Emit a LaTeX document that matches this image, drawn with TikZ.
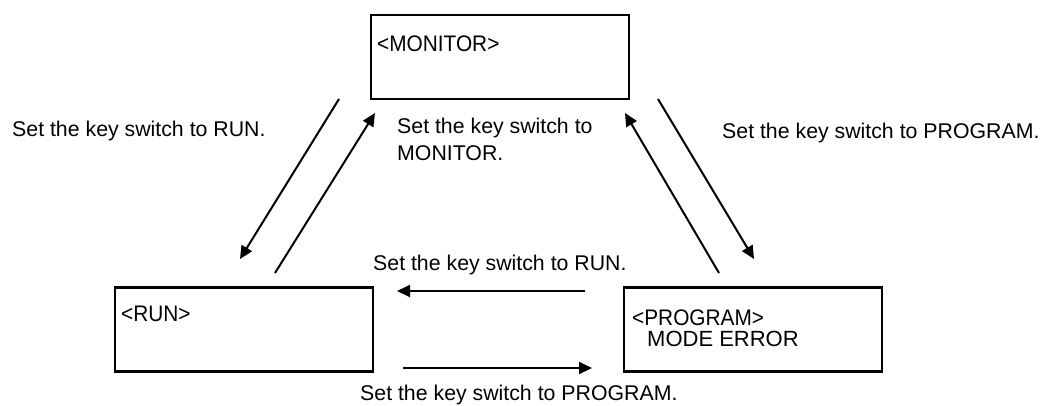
\documentclass[tikz,border=0pt]{standalone}
\usepackage{fontspec}
\setmainfont{Liberation Sans}
\newfontfamily\condfont[FakeStretch=0.925]{Liberation Sans}
\usetikzlibrary{arrows.meta}
\tikzset{
  modebox/.style={draw=black, line width=2.5pt, minimum width=258pt, minimum height=84pt, inner sep=0pt},
  boxtext/.style={anchor=base west, inner sep=0pt, font=\condfont\fontsize{22.5}{26}\selectfont},
  boxtextwide/.style={anchor=base west, inner sep=0pt, font=\fontsize{22}{26}\selectfont},
  lbl/.style={anchor=base west, inner sep=0pt, font=\fontsize{21.3}{27}\selectfont},
  arr/.style={line width=2pt, -{Triangle[length=13pt,width=12pt]}}
}
\begin{document}
\begin{tikzpicture}[x=1pt,y=-1pt]
\useasboundingbox (0,0) rectangle (1042,405);
% boxes
\node[modebox] (mon) at (500,57) {};
\node[modebox] (run) at (244,329.5) {};
\node[modebox] (prg) at (753,329.5) {};
% box texts
\node[boxtext] (montxt) at (377,51) {<MONITOR>};
\node[boxtext] (runtxt) at (121,321) {<RUN>};
\node[boxtext] (prgtxt) at (632,325) {<PROGRAM>};
\node[boxtextwide] (errtxt) at (647,346) {MODE ERROR};
% arrow end points
\coordinate (a1s) at (339,99);  \coordinate (a1e) at (240,259);
\coordinate (a2s) at (275,273); \coordinate (a2e) at (375,113);
\coordinate (a3s) at (719,273); \coordinate (a3e) at (625,113);
\coordinate (a4s) at (658,99);  \coordinate (a4e) at (754,259);
\coordinate (a5s) at (585,291); \coordinate (a5e) at (397,291);
\coordinate (a6s) at (403,368); \coordinate (a6e) at (592,368);
\draw[arr] (a1s) -- (a1e);
\draw[arr] (a2s) -- (a2e);
\draw[arr] (a3s) -- (a3e);
\draw[arr] (a4s) -- (a4e);
\draw[arr] (a5s) -- (a5e);
\draw[arr] (a6s) -- (a6e);
% labels
\node[lbl] (l1) at (12,136) {Set the key switch to RUN.};
\node[lbl] (l2a) at (397,133) {Set the key switch to};
\node[lbl] (l2b) at (397,160) {MONITOR.};
\node[lbl] (l3) at (722,138) {Set the key switch to PROGRAM.};
\node[lbl] (l4) at (373,270) {Set the key switch to RUN.};
\node[lbl] (l5) at (360,400) {Set the key switch to PROGRAM.};
\end{tikzpicture}
\end{document}
